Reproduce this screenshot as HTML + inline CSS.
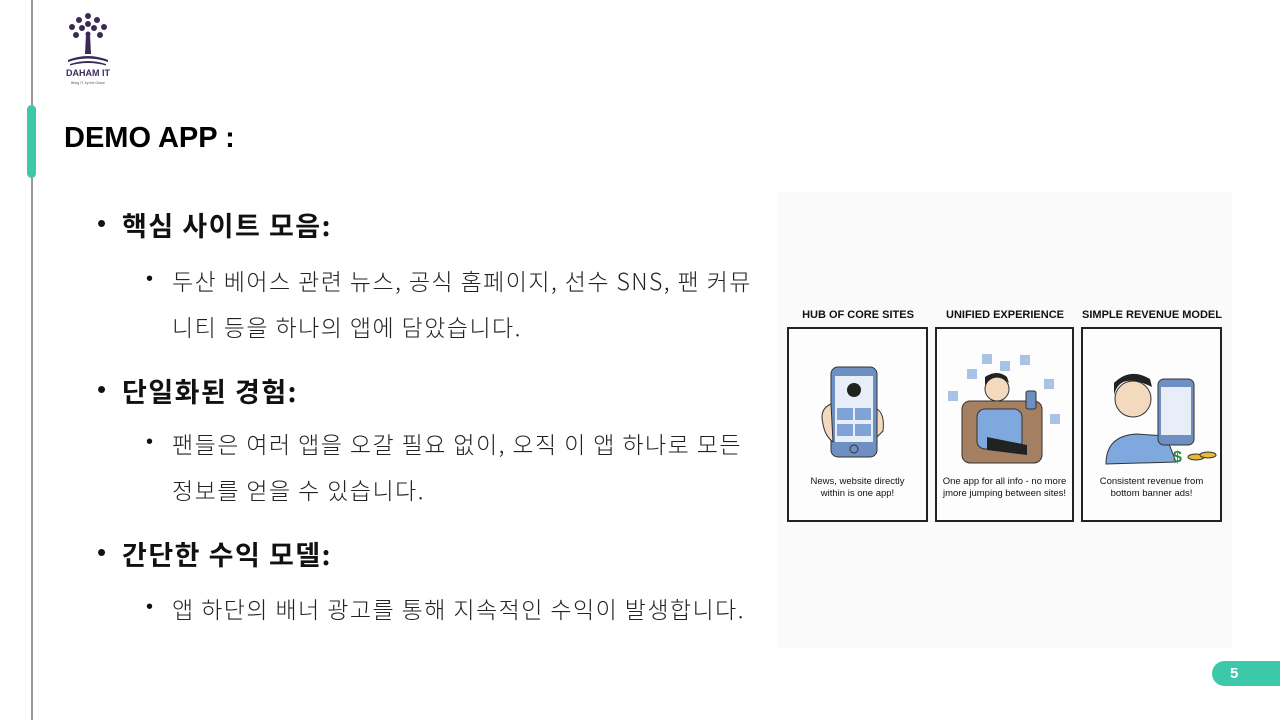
<!DOCTYPE html>
<html><head><meta charset="utf-8"><style>
*{margin:0;padding:0;box-sizing:border-box}
body{width:1280px;height:720px;background:#fff;position:relative;overflow:hidden;font-family:"Liberation Sans","Noto Sans CJK KR",sans-serif;color:#111}
.a{position:absolute;white-space:nowrap}
.h{font-size:27px;font-weight:700;left:122px;letter-spacing:1.5px;font-family:"Noto Sans CJK KR",sans-serif}
.hb{left:97px;font-size:26px}
.s{font-size:23px;font-weight:300;left:172px;color:#222;letter-spacing:1.45px;font-family:"Noto Sans CJK KR",sans-serif}
.sb{left:146px;font-size:20px}
.panel{position:absolute;top:327px;height:195px;border:2px solid #222;background:#fdfdfd}
.pt{position:absolute;top:309px;font-size:11px;font-weight:700;text-align:center;white-space:nowrap}
.cap{position:absolute;bottom:20px;left:0;right:0;text-align:center;font-size:9.5px;line-height:12px}
</style></head><body>
<div class="a" style="left:31px;top:0;width:2px;height:720px;background:#999"></div>
<div class="a" style="left:27px;top:105px;width:9px;height:73px;border-radius:5px;background:#3cc9a9"></div>
<svg class="a" style="left:62px;top:10px" width="52" height="75" viewBox="0 0 52 75">
<g fill="#3b2a58"><circle cx="26" cy="6" r="3"/><circle cx="17" cy="10" r="3"/><circle cx="35" cy="10" r="3"/><circle cx="10" cy="17" r="3"/><circle cx="42" cy="17" r="3"/><circle cx="20" cy="18" r="3"/><circle cx="32" cy="18" r="3"/><circle cx="26" cy="14" r="3"/><circle cx="14" cy="25" r="3"/><circle cx="38" cy="25" r="3"/><circle cx="26" cy="24" r="2.5"/>
<path d="M24 24h4l1 20h-6z"/><path d="M6 50q20-8 40 0v2q-20-7-40 0z"/><path d="M8 54q18-6 36 0v1.5q-18-5-36 0z"/></g>
<text x="26" y="66" font-size="9" font-weight="700" text-anchor="middle" fill="#3b2a58" font-family="Liberation Sans">DAHAM IT</text>
<text x="26" y="74" font-size="3.5" text-anchor="middle" fill="#555" font-family="Liberation Sans">Bring IT, by the Grace</text>
</svg>
<div class="a" style="left:64px;top:122px;font-size:29px;font-weight:700;color:#000">DEMO APP :</div>

<div class="a hb" style="top:208px">•</div><div class="a h" style="top:205px">핵심 사이트 모음:</div>
<div class="a sb" style="top:268px">•</div><div class="a s" style="top:263px">두산 베어스 관련 뉴스, 공식 홈페이지, 선수 SNS, 팬 커뮤</div>
<div class="a s" style="top:309px">니티 등을 하나의 앱에 담았습니다.</div>

<div class="a hb" style="top:374px">•</div><div class="a h" style="top:371px">단일화된 경험:</div>
<div class="a sb" style="top:431px">•</div><div class="a s" style="top:426px">팬들은 여러 앱을 오갈 필요 없이, 오직 이 앱 하나로 모든</div>
<div class="a s" style="top:472px">정보를 얻을 수 있습니다.</div>

<div class="a hb" style="top:537px">•</div><div class="a h" style="top:534px">간단한 수익 모델:</div>
<div class="a sb" style="top:596px">•</div><div class="a s" style="top:591px">앱 하단의 배너 광고를 통해 지속적인 수익이 발생합니다.</div>

<div class="a" style="left:778px;top:192px;width:454px;height:456px;background:#fafafa"></div>
<div class="pt" style="left:788px;width:140px">HUB OF CORE SITES</div>
<div class="pt" style="left:936px;width:138px">UNIFIED EXPERIENCE</div>
<div class="pt" style="left:1080px;width:144px">SIMPLE REVENUE MODEL</div>

<div class="panel" style="left:787px;width:141px">
<svg style="position:absolute;left:30px;top:35px" width="80" height="100"><rect x="12" y="3" width="46" height="90" rx="7" fill="#6d8fc2" stroke="#333"/><rect x="16" y="12" width="38" height="66" fill="#e8eef8"/><circle cx="35" cy="85" r="4" fill="none" stroke="#333"/><circle cx="35" cy="26" r="7" fill="#222"/><rect x="18" y="44" width="16" height="12" fill="#7fa3d6"/><rect x="36" y="44" width="16" height="12" fill="#7fa3d6"/><rect x="18" y="60" width="16" height="12" fill="#7fa3d6"/><rect x="36" y="60" width="16" height="12" fill="#7fa3d6"/><path d="M12 40q-12 5-8 20q2 12 10 18z" fill="#f3d9bd" stroke="#333"/><path d="M58 45q8 5 6 22l-6 6z" fill="#f3d9bd" stroke="#333"/></svg>
<div class="cap">News, website directly<br>within is one app!</div></div>
<div class="panel" style="left:935px;width:139px">
<svg style="position:absolute;left:5px;top:10px" width="128" height="135"><g fill="#a9c3e6"><rect x="40" y="15" width="10" height="10"/><rect x="25" y="30" width="10" height="10"/><rect x="58" y="22" width="10" height="10"/><rect x="78" y="16" width="10" height="10"/><rect x="6" y="52" width="10" height="10"/><rect x="102" y="40" width="10" height="10"/><rect x="108" y="75" width="10" height="10"/></g><rect x="20" y="62" width="80" height="62" rx="8" fill="#a57f62" stroke="#333"/><rect x="35" y="70" width="45" height="40" rx="8" fill="#7fa8de" stroke="#333"/><circle cx="55" cy="50" r="12" fill="#f3d9bd" stroke="#333"/><path d="M43 46q10-14 24-2l-2-6q-10-8-22 0z" fill="#222"/><path d="M45 98l40 8 0 10-40-5z" fill="#222"/><rect x="84" y="52" width="10" height="18" rx="2" fill="#6d8fc2" stroke="#333"/></svg>
<div class="cap">One app for all info - no more<br>jmore jumping between sites!</div></div>
<div class="panel" style="left:1081px;width:141px">
<svg style="position:absolute;left:15px;top:30px" width="120" height="110"><path d="M8 105q0-28 30-30l30 2 10 26z" fill="#7fa8de" stroke="#333"/><circle cx="35" cy="40" r="18" fill="#f3d9bd" stroke="#333"/><path d="M16 36q6-24 38-8l-2-8q-20-12-36 4z" fill="#222"/><rect x="60" y="20" width="36" height="66" rx="6" fill="#6d8fc2" stroke="#333"/><rect x="63" y="28" width="30" height="48" fill="#e8eef8"/><text x="75" y="103" font-size="16" font-weight="700" fill="#2a8a3a" font-family="Liberation Sans">$</text><ellipse cx="98" cy="98" rx="8" ry="3" fill="#e8b92e" stroke="#333"/><ellipse cx="110" cy="96" rx="8" ry="3" fill="#e8b92e" stroke="#333"/></svg>
<div class="cap">Consistent revenue from<br>bottom banner ads!</div></div>

<div class="a" style="left:1212px;top:661px;width:80px;height:25px;border-radius:13px;background:#3cc9a9"></div>
<div class="a" style="left:1230px;top:665px;font-size:15px;font-weight:700;color:#fff">5</div>
</body></html>
